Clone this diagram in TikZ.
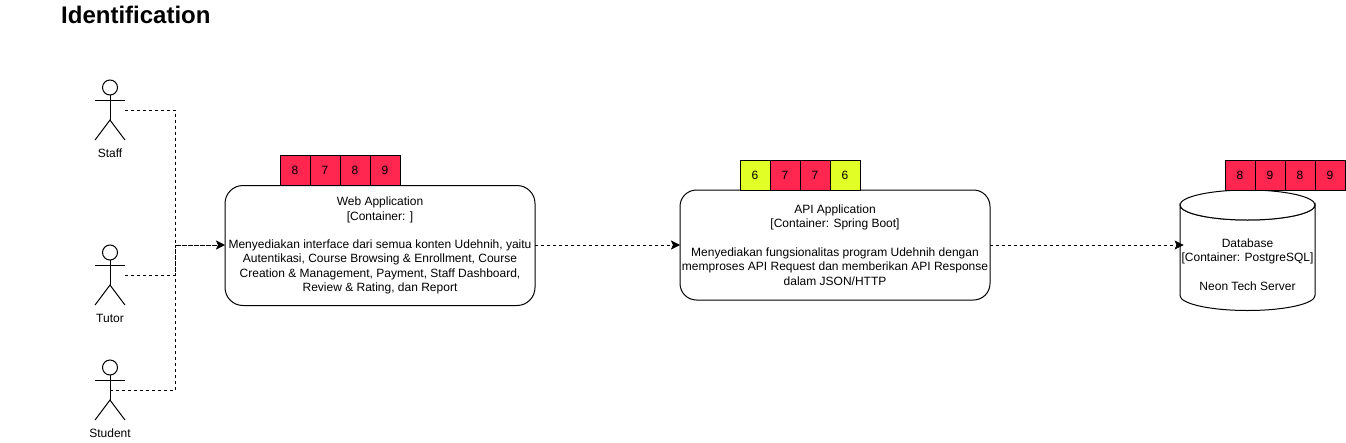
\documentclass[tikz,border=0pt]{standalone}
\usepackage{fontspec}
\setmainfont{Liberation Sans}
\usetikzlibrary{arrows.meta}
\definecolor{scorered}{HTML}{FF264F}
\definecolor{scorelime}{HTML}{E1FF26}
\tikzset{
  outline/.style={draw=black,line width=1pt},
  boxtext/.style={font=\fontsize{12}{14.3}\selectfont,align=center,text=black},
  appbox/.style={outline,minimum width=310pt,inner sep=0pt,outer sep=0pt,boxtext},
  cell/.style={outline,minimum width=30pt,minimum height=30pt,inner sep=0pt,outer sep=0pt,boxtext},
  redcell/.style={cell,fill=scorered},
  limecell/.style={cell,fill=scorelime},
  actorbody/.style={minimum width=30pt,minimum height=60pt,inner sep=0pt,outer sep=0pt},
  actorlabel/.style={boxtext,inner sep=0pt},
  arrowtip/.style={-{Stealth[length=9pt,width=9pt,inset=2pt,line width=0.5pt]}},
  link/.style={draw=black,line width=0.9pt,dash pattern=on 3pt off 3pt,arrowtip},
  linkplain/.style={draw=black,line width=0.9pt,dash pattern=on 3pt off 3pt},
  mergedlink/.style={draw=black,line width=0.9pt,dash pattern=on 5pt off 1pt,arrowtip},
}
\newcommand{\stickfigure}[3]{%
  \node[actorbody] (#1) at (#2,#3) {};
  \draw[outline] (#2,#3-22.5) circle (7.5pt);
  \draw[outline] (#2,#3-15) -- (#2,#3+10);
  \draw[outline] (#1.west |- 0,#3-10) -- (#1.east |- 0,#3-10);
  \draw[outline] (#1.south west) -- (#2,#3+10) -- (#1.south east);
}
\begin{document}
\begin{tikzpicture}[x=1pt,y=-1pt]
\useasboundingbox (0,0) rectangle (1346,442);
\fill[white] (0,0) rectangle (1346,442);

\node[anchor=west,inner sep=0pt,font=\fontsize{24}{28}\selectfont\bfseries] (title) at (61,15) {Identification};

\stickfigure{staff}{110}{110}
\stickfigure{tutor}{110}{275}
\stickfigure{student}{110}{390}
\node[actorlabel] (stafflabel) at (110,153.5) {Staff};
\node[actorlabel] (tutorlabel) at (110,318.5) {Tutor};
\node[actorlabel] (studentlabel) at (110,433.5) {Student};

\node[appbox,rounded corners=18pt,minimum height=120pt] (web) at (380,245.5) {Web Application\\{}[Container: ]\\[14.3pt]Menyediakan interface dari semua konten Udehnih, yaitu\\Autentikasi, Course Browsing \& Enrollment, Course\\Creation \& Management, Payment, Staff Dashboard,\\Review \& Rating, dan Report};
\node[appbox,rounded corners=16.5pt,minimum height=110pt] (api) at (835,245) {API Application\\{}[Container: Spring Boot]\\[14.3pt]Menyediakan fungsionalitas program Udehnih dengan\\memproses API Request dan memberikan API Response\\dalam JSON/HTTP};

\node[redcell] (w1) at (295,170) {8};
\node[redcell] (w2) at (325,170) {7};
\node[redcell] (w3) at (355,170) {8};
\node[redcell] (w4) at (385,170) {9};

\node[limecell] (a1) at (755,175) {6};
\node[redcell] (a2) at (785,175) {7};
\node[redcell] (a3) at (815,175) {7};
\node[limecell] (a4) at (845,175) {6};

% database cylinder
\draw[outline,fill=white] (1180,205) arc[start angle=180,end angle=360,x radius=67.5pt,y radius=15pt]
  -- (1315,295.5) arc[start angle=0,end angle=180,x radius=67.5pt,y radius=-15pt] -- cycle;
\draw[outline,fill=white] (1247.5,205) ellipse [x radius=67.5pt,y radius=15pt];
\node[boxtext,inner sep=0pt,outer sep=0pt] (db) at (1247.5,264.5) {Database\\{}[Container: PostgreSQL]\\[14.3pt]Neon Tech Server};

\node[redcell] (d1) at (1240,175) {8};
\node[redcell] (d2) at (1270,175) {9};
\node[redcell] (d3) at (1300,175) {8};
\node[redcell] (d4) at (1330,175) {9};

\coordinate (join) at (175.5,245);
\draw[linkplain] (staff.east) -| (join);
\draw[linkplain] (tutor.east) -| (join);
\draw[linkplain] (student.center) -| (join);
\draw[mergedlink] (join) -- (join -| web.west);
\draw[link] (web.east |- join) -- (join -| api.west);
\draw[link] (api.east |- join) -- ([xshift=2pt]db.west |- join);
\end{tikzpicture}
\end{document}
